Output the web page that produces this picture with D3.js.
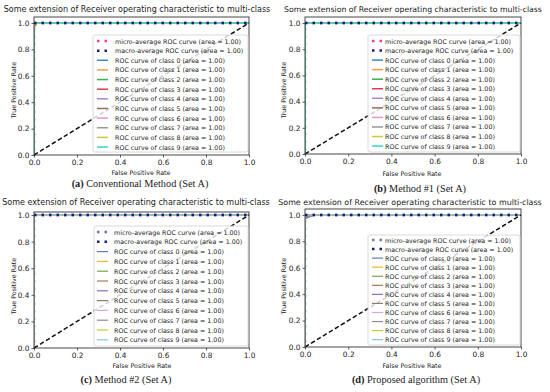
<!DOCTYPE html>
<html>
<head>
<meta charset="utf-8">
<script src="https://cdn.jsdelivr.net/npm/d3@7"></script>
<style>
  body { margin: 0; background: #fff; }
  text { font-family: "DejaVu Sans", sans-serif; fill: #222; }
  .cap { font-family: "Liberation Serif", "DejaVu Serif", serif; }
</style>
</head>
<body>
<div id="container"></div>
<script>
// ---- chart values ----
const classIds = [0, 1, 2, 3, 4, 5, 6, 7, 8, 9];
const classAuc = [1.00, 1.00, 1.00, 1.00, 1.00, 1.00, 1.00, 1.00, 1.00, 1.00];
const microAuc = 1.00;
const macroAuc = 1.00;
const tickValues = [0, 0.2, 0.4, 0.6, 0.8, 1.0];
const chartTitle = "Some extension of Receiver operating characteristic to multi-class";
const captionTags = ["(a)", "(b)", "(c)", "(d)"];
const captionTexts = ["Conventional Method (Set A)", "Method #1 (Set A)", "Method #2 (Set A)", "Proposed algorithm (Set A)"];

// [fpr, tpr] points
const perfectCurve = [[0, 0], [0, 1], [1, 1]];
const microCurve = [[0, 0], [0, 1], [1, 1]];
const macroCurve = [[0, 1], [1, 1]];
const chanceLine = [[0, 0], [1, 1]];

const curvesA = [perfectCurve, [[0, 0], [0, 0.96], [0.015, 1], [1, 1]], perfectCurve, perfectCurve, perfectCurve,
                 [[0, 0], [0, 0.98], [0.01, 1], [1, 1]], perfectCurve, perfectCurve, perfectCurve, perfectCurve];
const curvesB = [perfectCurve, perfectCurve, perfectCurve, perfectCurve, perfectCurve,
                 perfectCurve, perfectCurve, perfectCurve, perfectCurve, perfectCurve];
const curvesC = [perfectCurve, perfectCurve, perfectCurve, perfectCurve, perfectCurve,
                 perfectCurve, perfectCurve, perfectCurve, perfectCurve, perfectCurve];
const curvesD = [[[0, 0], [0, 0.98], [0.03, 1], [1, 1]], perfectCurve, [[0, 0], [0, 0.99], [0.02, 1], [1, 1]],
                 perfectCurve, [[0, 0], [0, 0.97], [0.04, 1], [1, 1]], perfectCurve, perfectCurve,
                 [[0, 0], [0, 0.98], [0.05, 1], [1, 1]], perfectCurve, perfectCurve];

const coloursAB = ["#3c86c0", "#ff9a4a", "#3cb04a", "#e8384a", "#a586c8", "#9a6a5e", "#ec8ed0", "#9a9a9a", "#cfc63a", "#2fd8c8"];
const coloursCD = ["#5b80b8", "#e8b830", "#7aa24e", "#a87850", "#7a72c4", "#8a7a66", "#d6a8d8", "#8c8c8c", "#c6cc2c", "#8ec0e8"];

// ---- layout of the four panels ----
const panels = [
  {curves: curvesA, colours: coloursAB, micro: "#f0408a", lw: 1.5,
   x0: 34, x1: 249, yt: 17, yb: 155, ymax: 1.045, tx: 137, ty: 9, tw: 267, lx: 141, ly: 172, yx: 13, yy: 90,
   cx: 140, cy: 183, legX: 93, legY: 35, legW: 155, legH: 117, legFirst: 41, legStep: 9.64, hx: 97, txX: 115},
  {curves: curvesB, colours: coloursAB, micro: "#f0408a", lw: 1.5,
   x0: 305, x1: 521, yt: 17, yb: 154, ymax: 1.046, tx: 413, ty: 9, tw: 258, lx: 412, ly: 173, yx: 283, yy: 90,
   cx: 420, cy: 188, legX: 368, legY: 35, legW: 152, legH: 117, legFirst: 41, legStep: 9.55, hx: 372, txX: 385},
  {curves: curvesC, colours: coloursCD, micro: "#7e6ea6", lw: 1.2,
   x0: 34, x1: 249, yt: 212, yb: 348, ymax: 1.023, tx: 136, ty: 202, tw: 268, lx: 142, ly: 365, yx: 13, yy: 286,
   cx: 126, cy: 379, legX: 94, legY: 226, legW: 154, legH: 120, legFirst: 232, legStep: 9.8, hx: 97, txX: 114},
  {curves: curvesD, colours: coloursCD, micro: "#7e6ea6", lw: 1.2,
   x0: 305, x1: 521, yt: 209, yb: 347, ymax: 1.045, tx: 410, ty: 202, tw: 264, lx: 412, ly: 365, yx: 283, yy: 286,
   cx: 416, cy: 379, legX: 368, legY: 235, legW: 152, legH: 110, legFirst: 240, legStep: 9.06, hx: 372, txX: 385}
];

const W = 550, H = 392;
const dotDash = [2.5, 5];

const svg = d3.select("#container").append("svg")
  .attr("width", W).attr("height", H);

// scale a text element's font so it spans the wanted width
function fitWidth(sel, w) {
  const len = sel.node().getComputedTextLength();
  const fs = parseFloat(sel.attr("font-size"));
  sel.attr("font-size", fs * w / len);
}

let capSize = null;

panels.forEach((p, i) => {
  const g = svg.append("g");
  const x = d3.scaleLinear().domain([0, 1]).range([p.x0, p.x1]);
  const y = d3.scaleLinear().domain([0, p.ymax]).range([p.yb, p.yt]);
  const line = d3.line().x(d => x(d[0])).y(d => y(d[1]));

  const clipId = "clip" + i;
  g.append("clipPath").attr("id", clipId).append("rect")
    .attr("x", p.x0).attr("y", p.yt).attr("width", p.x1 - p.x0).attr("height", p.yb - p.yt);

  const plot = g.append("g").attr("clip-path", `url(#${clipId})`);

  // micro average (dotted)
  const microPath = plot.append("path").datum(microCurve)
    .attr("d", line).attr("fill", "none")
    .attr("stroke", p.micro).attr("stroke-width", 2.5)
    .attr("stroke-dasharray", dotDash.join(","));
  // align its dots with the macro dots along the top
  const period = dotDash[0] + dotDash[1];
  const rise = y(0) - y(1);
  microPath.attr("stroke-dashoffset", (period - (rise % period)) % period);

  // per-class curves
  plot.selectAll(".cls").data(p.curves).join("path")
    .attr("class", "cls")
    .attr("d", line).attr("fill", "none")
    .attr("stroke", (d, k) => p.colours[k]).attr("stroke-width", p.lw);

  // macro average (dotted)
  plot.append("path").datum(macroCurve)
    .attr("d", line).attr("fill", "none")
    .attr("stroke", "#1a1a80").attr("stroke-width", 2.5)
    .attr("stroke-dasharray", dotDash.join(","));

  // chance diagonal
  g.append("path").datum(chanceLine)
    .attr("d", line).attr("fill", "none")
    .attr("stroke", "#111").attr("stroke-width", 1.5)
    .attr("stroke-dasharray", "4.5,2.5");

  // axes
  const xAxis = g.append("g").attr("transform", `translate(0,${p.yb})`)
    .call(d3.axisBottom(x).tickValues(tickValues).tickFormat(d3.format(".1f")).tickSize(2.5).tickSizeOuter(0).tickPadding(2));
  const yAxis = g.append("g").attr("transform", `translate(${p.x0},0)`)
    .call(d3.axisLeft(y).tickValues(tickValues).tickFormat(d3.format(".1f")).tickSize(2.5).tickSizeOuter(0).tickPadding(2));
  [xAxis, yAxis].forEach(a => {
    a.select(".domain").remove();
    a.selectAll("line").attr("stroke", "#333").attr("stroke-width", 0.8);
    a.selectAll("text").attr("font-size", 7.4).attr("fill", "#333")
      .style("font-family", "DejaVu Sans, sans-serif");
  });

  // frame
  g.append("rect").attr("x", p.x0).attr("y", p.yt)
    .attr("width", p.x1 - p.x0).attr("height", p.yb - p.yt)
    .attr("fill", "none").attr("stroke", "#333").attr("stroke-width", 0.9);

  // legend
  const leg = g.append("g");
  leg.append("rect").attr("x", p.legX).attr("y", p.legY)
    .attr("width", p.legW).attr("height", p.legH).attr("rx", 2)
    .attr("fill", "#fff").attr("fill-opacity", 0.8)
    .attr("stroke", "#d0d0d0").attr("stroke-width", 0.8);

  const entries = [
    {label: `micro-average ROC curve (area = ${microAuc.toFixed(2)})`, colour: p.micro, dots: true},
    {label: `macro-average ROC curve (area = ${macroAuc.toFixed(2)})`, colour: "#1a1a80", dots: true}
  ].concat(classIds.map(c => ({
    label: `ROC curve of class ${c} (area = ${classAuc[c].toFixed(2)})`, colour: p.colours[c], dots: false
  })));

  const texts = [];
  entries.forEach((e, k) => {
    const yy = p.legFirst + k * p.legStep;
    leg.append("line").attr("x1", p.hx).attr("x2", p.hx + 11)
      .attr("y1", yy).attr("y2", yy)
      .attr("stroke", e.colour)
      .attr("stroke-width", e.dots ? 2.5 : p.lw)
      .attr("stroke-dasharray", e.dots ? dotDash.join(",") : null);
    texts.push(leg.append("text").attr("x", p.txX).attr("y", yy)
      .attr("dominant-baseline", "central").attr("font-size", 6.4).attr("fill", "#333")
      .text(e.label));
  });
  fitWidth(texts[0], 126);
  const legSize = texts[0].attr("font-size");
  texts.forEach(t => t.attr("font-size", legSize));

  // title
  const title = g.append("text").attr("x", p.tx).attr("y", p.ty)
    .attr("text-anchor", "middle").attr("dominant-baseline", "central")
    .attr("font-size", 7.5).text(chartTitle);
  fitWidth(title, p.tw);

  // axis labels
  const xl = g.append("text").attr("x", p.lx).attr("y", p.ly)
    .attr("text-anchor", "middle").attr("dominant-baseline", "central")
    .attr("font-size", 6.6).attr("fill", "#333").text("False Positive Rate");
  fitWidth(xl, 59);
  const yl = g.append("text")
    .attr("transform", `translate(${p.yx},${p.yy}) rotate(-90)`)
    .attr("text-anchor", "middle").attr("dominant-baseline", "central")
    .attr("font-size", 6.6).attr("fill", "#333").text("True Positive Rate");
  yl.attr("font-size", xl.attr("font-size"));

  // caption under the panel
  const cap = g.append("text").attr("class", "cap")
    .attr("x", p.cx).attr("y", p.cy)
    .attr("text-anchor", "middle").attr("dominant-baseline", "central")
    .attr("font-size", 10).attr("fill", "#111");
  cap.append("tspan").attr("font-weight", "bold").text(captionTags[i]);
  cap.append("tspan").text(" " + captionTexts[i]);
  if (capSize === null) { fitWidth(cap, 137); capSize = cap.attr("font-size"); }
  cap.attr("font-size", capSize);
});
</script>
</body>
</html>
